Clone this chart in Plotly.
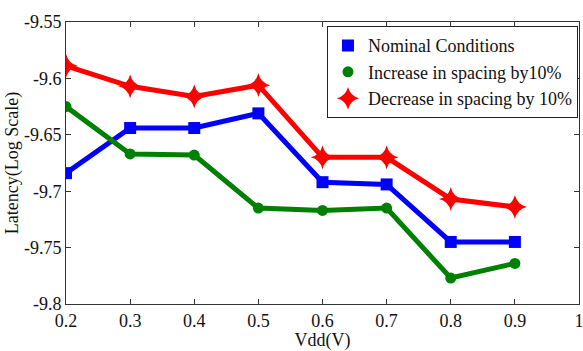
import plotly.graph_objects as go

vdd = [0.2, 0.3, 0.4, 0.5, 0.6, 0.7, 0.8, 0.9]
nominal = [-9.684, -9.644, -9.644, -9.631, -9.692, -9.694, -9.745, -9.745]
increase = [-9.625, -9.667, -9.668, -9.715, -9.717, -9.715, -9.777, -9.764]
decrease = [-9.589, -9.607, -9.616, -9.606, -9.670, -9.670, -9.707, -9.714]
x_ticks = [0.2, 0.3, 0.4, 0.5, 0.6, 0.7, 0.8, 0.9, 1]
y_ticks = [-9.8, -9.75, -9.7, -9.65, -9.6, -9.55]

FONT = "Liberation Serif, Times New Roman, serif"

series = [
    ("Nominal Conditions", nominal, "#0000ff", "square", 12),
    ("Increase in spacing by10%", increase, "#008000", "circle", 11),
    ("Decrease in spacing by 10%", decrease, "#ff0000", "star-diamond", 17),
]

fig = go.Figure()
for name, ys, color, sym, size in series:
    fig.add_trace(go.Scatter(x=vdd, y=ys, mode="lines", showlegend=False, legendgroup=name,
                             line=dict(color=color, width=5), hoverinfo="skip"))
    fig.add_trace(go.Scatter(x=vdd, y=ys, mode="markers", name=name, legendgroup=name,
                             marker=dict(symbol=sym, size=size, color=color)))

axis_common = dict(showgrid=False, zeroline=False, showline=True, linecolor="#333333",
                   linewidth=1, mirror="ticks", ticks="inside", ticklen=5, tickcolor="#333333",
                   ticklabeloverflow="allow", automargin=False,
                   tickfont=dict(family=FONT, size=18, color="#111111"))
fig.update_layout(
    width=583, height=351,
    margin=dict(l=66, r=4, t=22, b=47),
    paper_bgcolor="white", plot_bgcolor="white",
    font=dict(family=FONT, color="#111111"),
    xaxis=dict(range=[0.2, 1.0], tickvals=x_ticks, ticktext=[f"{v:g}" for v in x_ticks],
               title=dict(text="Vdd(V)", font=dict(size=18, family=FONT), standoff=0), **axis_common),
    yaxis=dict(range=[-9.8, -9.55], tickvals=y_ticks, ticktext=[f"{v:g}" for v in y_ticks],
               title=dict(text="Latency(Log Scale)", font=dict(size=18, family=FONT), standoff=0), **axis_common),
    legend=dict(x=0.998, y=0.985, xanchor="right", yanchor="top", bgcolor="white",
                bordercolor="#222222", borderwidth=1, font=dict(size=18, family=FONT),
                itemwidth=30, tracegroupgap=0),
    showlegend=True,
)
fig.write_html("out.html")
